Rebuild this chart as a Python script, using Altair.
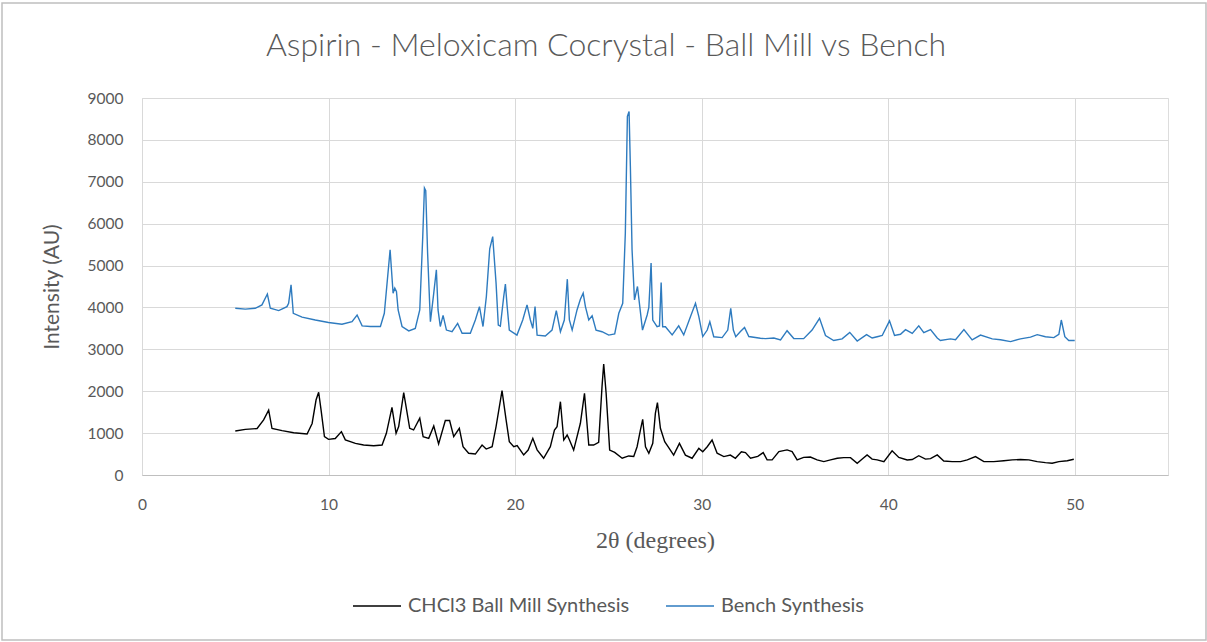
import altair as alt
import pandas as pd

# Bench Synthesis (blue)
bench_x = [5.00, 5.54, 6.07, 6.43, 6.72, 6.88, 7.33, 7.77, 7.86, 7.99, 8.11, 8.58, 9.29, 10.00,
           10.72, 11.26, 11.53, 11.80, 12.24, 12.78, 12.99, 13.30, 13.46, 13.55, 13.64, 13.73,
           13.94, 14.30, 14.65, 14.89, 15.05, 15.14, 15.21, 15.31, 15.46, 15.64, 15.78, 15.87,
           15.99, 16.14, 16.32, 16.62, 16.92, 17.16, 17.60, 17.87, 18.09, 18.28, 18.46, 18.64,
           18.80, 18.98, 19.10, 19.21, 19.39, 19.48, 19.57, 19.69, 20.10, 20.41, 20.64, 20.82,
           20.95, 21.07, 21.18, 21.62, 21.98, 22.21, 22.43, 22.64, 22.80, 22.91, 23.06, 23.32,
           23.50, 23.65, 23.77, 23.95, 24.13, 24.34, 24.66, 25.02, 25.34, 25.56, 25.77, 25.91,
           26.02, 26.11, 26.18, 26.27, 26.40, 26.56, 26.83, 27.08, 27.17, 27.29, 27.38, 27.61,
           27.74, 27.83, 27.91, 28.06, 28.42, 28.77, 29.04, 29.40, 29.67, 29.85, 30.06, 30.30,
           30.44, 30.65, 31.10, 31.40, 31.56, 31.70, 31.83, 32.08, 32.30, 32.53, 33.15, 33.42,
           33.87, 34.23, 34.58, 34.94, 35.47, 35.92, 36.32, 36.64, 37.08, 37.53, 37.94, 38.34,
           38.84, 39.14, 39.41, 39.68, 40.07, 40.34, 40.66, 40.93, 41.29, 41.64, 41.91, 42.27,
           42.63, 42.80, 43.34, 43.61, 44.06, 44.50, 44.95, 45.58, 46.02, 46.56, 47.09, 47.63,
           47.99, 48.43, 48.88, 49.15, 49.28, 49.47, 49.68, 50.00]
bench_y = [3980, 3960, 3980, 4060, 4320, 3980, 3925, 4020, 4100, 4540, 3860, 3770, 3700, 3640,
           3600, 3660, 3820, 3560, 3545, 3545, 3860, 5375, 4340, 4460, 4380, 3940,
           3545, 3440, 3500, 3940, 5690, 6850, 6790, 5300, 3660, 4340, 4900, 3940,
           3545, 3810, 3460, 3420, 3620, 3385, 3385, 3700, 4020, 3545, 4260, 5400,
           5690, 4580, 3580, 3555, 4260, 4560, 4050, 3460, 3340, 3700, 4060, 3700,
           3500, 4020, 3340, 3320, 3460, 3925, 3420, 3700, 4675, 3700, 3460, 3940,
           4195, 4340, 4020, 3700, 3800, 3460, 3420, 3340, 3370, 3860, 4100, 5775,
           8560, 8680, 7365, 5375, 4180, 4500, 3460, 3820, 4000, 5060, 3700, 3540,
           3560, 4595, 3540, 3540, 3345, 3560, 3345, 3780, 4100, 3780, 3305, 3460,
           3660, 3300, 3280, 3460, 3980, 3460, 3300, 3425, 3520, 3305, 3265, 3255,
           3270, 3225, 3445, 3260, 3255, 3460, 3740, 3330, 3210, 3250, 3405, 3200,
           3350, 3270, 3300, 3330, 3680, 3330, 3360, 3470, 3380, 3560, 3400, 3470,
           3270, 3210, 3250, 3230, 3470, 3225, 3340, 3250, 3230, 3185, 3250, 3290,
           3350, 3300, 3280, 3360, 3700, 3300, 3210, 3210]

# CHCl3 Ball Mill Synthesis (black)
ball_x = [5.00, 5.54, 6.17, 6.52, 6.79, 6.97, 7.51, 8.13, 8.85, 9.12, 9.33, 9.47, 9.60, 9.78,
          10.00, 10.36, 10.69, 10.90, 11.44, 11.88, 12.42, 12.87, 13.10, 13.40, 13.62, 13.76,
          14.03, 14.35, 14.56, 14.89, 15.07, 15.37, 15.64, 15.90, 16.26, 16.49, 16.71, 17.01,
          17.21, 17.51, 17.87, 18.23, 18.45, 18.77, 18.98, 19.30, 19.52, 19.69, 19.93, 20.11,
          20.46, 20.70, 20.95, 21.18, 21.53, 21.89, 22.11, 22.25, 22.43, 22.61, 22.79, 22.91,
          23.14, 23.50, 23.72, 23.95, 24.21, 24.48, 24.66, 24.75, 24.88, 25.07, 25.34, 25.74,
          26.09, 26.36, 26.54, 26.72, 26.84, 26.99, 27.17, 27.38, 27.52, 27.63, 27.79, 28.02,
          28.20, 28.50, 28.81, 29.13, 29.49, 29.85, 30.06, 30.30, 30.56, 30.83, 31.19, 31.54,
          31.81, 32.13, 32.35, 32.62, 33.01, 33.30, 33.51, 33.78, 34.14, 34.58, 34.85, 35.12,
          35.47, 35.83, 36.19, 36.55, 36.91, 37.27, 37.62, 37.98, 38.34, 38.61, 38.87, 39.14,
          39.41, 39.77, 40.21, 40.57, 41.02, 41.29, 41.64, 42.00, 42.27, 42.63, 42.98, 43.43,
          43.88, 44.24, 44.68, 45.13, 45.66, 46.20, 46.65, 47.09, 47.54, 47.99, 48.43, 48.79,
          49.15, 49.60, 49.95]
ball_y = [1050, 1090, 1110, 1315, 1550, 1110, 1060, 1010, 980, 1230, 1790, 1975, 1550, 915,
          850, 870, 1035, 840, 755, 715, 700, 715, 995, 1615, 995, 1155,
          1965, 1115, 1075, 1355, 915, 875, 1170, 740, 1300, 1300, 915, 1115,
          675, 520, 500, 715, 620, 675, 1155, 2015, 1310, 795, 675, 700,
          480, 595, 875, 600, 400, 675, 1075, 1155, 1750, 835, 955, 840,
          595, 1235, 1950, 715, 715, 780, 2110, 2650, 1950, 595, 540, 400,
          455, 440, 675, 1075, 1330, 675, 520, 755, 1470, 1730, 1115, 795,
          675, 475, 755, 475, 400, 635, 555, 675, 835, 520, 440, 475,
          400, 555, 535, 400, 445, 535, 360, 360, 560, 600, 560, 360,
          420, 430, 360, 320, 360, 400, 415, 415, 280, 380, 480, 380,
          360, 320, 580, 420, 360, 370, 460, 380, 390, 480, 335, 320,
          320, 360, 440, 320, 320, 340, 360, 370, 360, 320, 295, 280,
          320, 340, 375]

series_names = ["CHCl3 Ball Mill Synthesis", "Bench Synthesis"]
series_colors = ["#000000", "#2e7bbf"]
x_ticks = [0, 10, 20, 30, 40, 50]
y_ticks = [0, 1000, 2000, 3000, 4000, 5000, 6000, 7000, 8000, 9000]

df = pd.concat([
    pd.DataFrame({"x": ball_x, "y": ball_y, "series": series_names[0], "order": range(len(ball_x))}),
    pd.DataFrame({"x": bench_x, "y": bench_y, "series": series_names[1], "order": range(len(bench_x))}),
])

TXT = "#595959"
W, H = 1026, 377

lines = alt.Chart(df).mark_line(strokeWidth=1.4).encode(
    x=alt.X("x:Q",
            scale=alt.Scale(domain=[0, 55], nice=False, zero=False),
            axis=alt.Axis(values=x_ticks, format="d", title="2θ (degrees)", grid=True,
                          gridColor="#d9d9d9", domainColor="#bfbfbf", domainWidth=1.2, ticks=False,
                          labelFlush=False, labelOverlap=False,
                          labelFont="Lato", labelFontSize=15.5, labelColor=TXT, labelPadding=22,
                          titleFont="Liberation Serif", titleFontSize=24, titleFontWeight="normal",
                          titleColor=TXT, titleY=65, titleBaseline="middle")),
    y=alt.Y("y:Q",
            scale=alt.Scale(domain=[0, 9000], nice=False),
            axis=alt.Axis(values=y_ticks, format="d", title="Intensity (AU)", grid=True,
                          gridColor="#d9d9d9", domain=False, ticks=False,
                          labelFlush=False, labelOverlap=False,
                          labelFont="Lato", labelFontSize=15.5, labelColor=TXT, labelPadding=19,
                          titleFont="Lato", titleFontSize=21, titleFontWeight="normal",
                          titleColor=TXT, titleX=-90, titleY=H / 2, titleBaseline="middle")),
    color=alt.Color("series:N",
                    scale=alt.Scale(domain=series_names, range=series_colors),
                    legend=alt.Legend(orient="none", legendX=210, legendY=483, direction="horizontal",
                                      title=None, symbolType="stroke", symbolSize=2304,
                                      symbolStrokeWidth=1.5, labelFont="Lato", labelFontSize=20,
                                      labelColor=TXT, labelLimit=0, columnPadding=33, labelOffset=6)),
    order="order:Q",
)

frame = alt.Chart(alt.Data(values=[{"a": 1}])).mark_rect(
    fillOpacity=0, stroke="#bfbfbf", strokeWidth=1.5
).encode(
    x=alt.value(-140), x2=alt.value(W + 38), y=alt.value(-95), y2=alt.value(H + 165)
)

chart = alt.layer(frame, lines).properties(
    width=W, height=H,
    padding={"left": 142, "top": 98, "right": 39, "bottom": 167},
    autosize=alt.AutoSizeParams(type="none"),
    title=alt.TitleParams("Aspirin - Meloxicam Cocrystal - Ball Mill vs Bench",
                          font="Lato", fontSize=32, fontWeight=300, color=TXT,
                          anchor="middle", frame="group", dx=-49, offset=-61),
).configure_view(stroke=None).configure(background="white")

chart.save("out.html", embed_options={"renderer": "svg", "actions": False})
